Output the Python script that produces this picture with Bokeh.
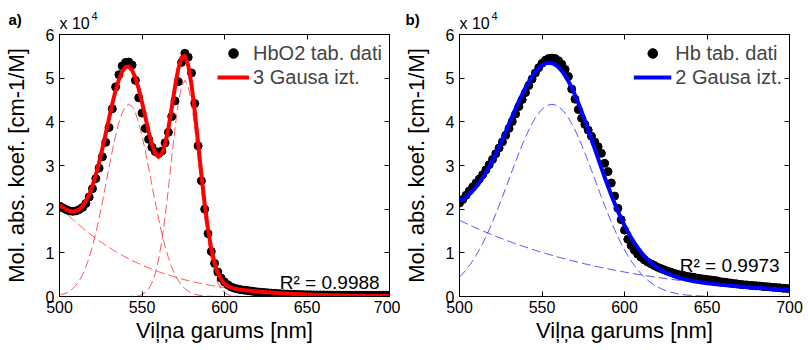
import numpy as np
from bokeh.plotting import figure
from bokeh.models import Range1d, FixedTicker, LinearAxis, Label, Legend, LegendItem
from bokeh.layouts import row
from bokeh.embed import file_html
from bokeh.resources import INLINE

# ---------------- data (molar absorption, units of 1e4 cm-1/M) ----------------
wavelength = list(range(500, 701, 2))

hbo2_data = [
    2.07, 2.03, 1.99, 1.96, 1.95, 1.96, 1.99, 2.04, 2.13, 2.28,
    2.47, 2.70, 2.94, 3.20, 3.53, 3.87, 4.30, 4.80, 5.08, 5.28,
    5.36, 5.37, 5.30, 4.95, 4.55, 4.20, 3.85, 3.60, 3.42, 3.32,
    3.28, 3.33, 3.52, 3.76, 4.12, 4.48, 4.92, 5.36, 5.57, 5.48,
    5.12, 4.42, 3.45, 2.65, 2.00, 1.44, 1.03, 0.76, 0.56, 0.42,
    0.33, 0.27, 0.22, 0.19, 0.17, 0.155, 0.145, 0.135, 0.125, 0.115,
    0.105, 0.098, 0.091, 0.085, 0.079, 0.073, 0.068, 0.063, 0.059, 0.055,
    0.052, 0.049, 0.046, 0.044, 0.042, 0.040, 0.039, 0.037, 0.036, 0.035,
    0.034, 0.033, 0.032, 0.031, 0.031, 0.030, 0.030, 0.029, 0.029, 0.029,
    0.028, 0.028, 0.028, 0.028, 0.028, 0.028, 0.028, 0.029, 0.029, 0.029,
    0.029,
]

hb_data = [
    2.14, 2.22, 2.32, 2.42, 2.51, 2.60, 2.69, 2.79, 2.90, 3.02,
    3.14, 3.27, 3.40, 3.54, 3.69, 3.85, 4.01, 4.18, 4.35, 4.51,
    4.67, 4.83, 4.98, 5.12, 5.24, 5.34, 5.41, 5.45, 5.46, 5.45,
    5.40, 5.32, 5.20, 5.04, 4.75, 4.52, 4.28, 4.08, 3.94, 3.81,
    3.67, 3.54, 3.43, 3.28, 3.05, 2.86, 2.60, 2.30, 2.02, 1.76,
    1.52, 1.31, 1.17, 1.06, 0.97, 0.90, 0.84, 0.79, 0.75, 0.71,
    0.67, 0.64, 0.61, 0.58, 0.56, 0.53, 0.51, 0.49, 0.48, 0.46,
    0.45, 0.44, 0.42, 0.41, 0.40, 0.39, 0.38, 0.37, 0.36, 0.34,
    0.33, 0.32, 0.31, 0.30, 0.29, 0.28, 0.27, 0.265, 0.255, 0.25,
    0.245, 0.24, 0.23, 0.225, 0.22, 0.21, 0.205, 0.20, 0.19, 0.185,
    0.18,
]

# Gaussian fit parameters: a*exp(-((x-b)/c)^2)
hbo2_fit_a = [4.40, 4.95, 17.2]
hbo2_fit_b = [542.0, 576.0, 276.0]
hbo2_fit_c = [19.0, 12.0, 153.8]

hb_fit_a = [4.40, 41.3]
hb_fit_b = [556.0, -103.0]
hb_fit_c = [37.0, 339.0]

hbo2_r2 = "0.9988"
hb_r2 = "0.9973"

x_ticks = [500, 550, 600, 650, 700]
y_ticks = [0, 1, 2, 3, 4, 5, 6]

FONT = "Liberation Sans"


def components(x, a_list, b_list, c_list):
    x = np.asarray(x, dtype=float)
    return [a * np.exp(-((x - b) / c) ** 2) for a, b, c in zip(a_list, b_list, c_list)]


def make_panel(width, left, right, letter, letter_dx, data, data_label, a_l, b_l, c_l,
               fit_label, color, dash_color, r2, r2_y, legend_glyph_w):
    p = figure(width=width, height=346, x_range=Range1d(500, 700), y_range=Range1d(0, 6),
               output_backend="svg", toolbar_location=None,
               min_border_left=left, min_border_right=right, min_border_top=33,
               min_border_bottom=50)
    p.xgrid.visible = False
    p.ygrid.visible = False
    p.outline_line_color = "black"
    p.outline_line_alpha = 1.0
    p.background_fill_color = "white"
    p.border_fill_color = "white"

    for ax in (p.xaxis[0], p.yaxis[0]):
        ax.major_tick_in = 5
        ax.major_tick_out = 0
        ax.minor_tick_in = 0
        ax.minor_tick_out = 0
        ax.major_label_text_font = FONT
        ax.major_label_text_font_size = "16px"
        ax.major_label_text_color = "black"
        ax.axis_line_color = "black"
        ax.major_tick_line_color = "black"
        ax.axis_label_text_font = FONT
        ax.axis_label_text_font_size = "22px"
        ax.axis_label_text_font_style = "normal"
        ax.axis_label_text_color = "black"
    p.xaxis[0].ticker = FixedTicker(ticks=x_ticks)
    p.yaxis[0].ticker = FixedTicker(ticks=y_ticks)
    p.xaxis[0].axis_label = "Viļņa garums [nm]"
    p.xaxis[0].axis_label_standoff = 2
    p.xaxis[0].major_label_standoff = 4
    p.yaxis[0].axis_label = "Mol. abs. koef. [cm-1/M]"
    p.yaxis[0].axis_label_standoff = 14
    p.yaxis[0].major_label_standoff = 5

    for loc, ticks in (("above", x_ticks), ("right", y_ticks)):
        ax = LinearAxis(ticker=FixedTicker(ticks=ticks), major_tick_in=5, major_tick_out=0,
                        minor_tick_in=0, minor_tick_out=0, major_label_text_font_size="0px",
                        major_label_text_color=None, major_label_standoff=0,
                        axis_line_color="black", major_tick_line_color="black")
        p.add_layout(ax, loc)

    comps = components(wavelength, a_l, b_l, c_l)
    for comp in comps:
        p.line(wavelength, comp, line_color=dash_color, line_width=1, line_dash="9 4",
               line_alpha=0.75)
    total = np.sum(comps, axis=0)

    r_pts = p.scatter(wavelength, data, size=8, color="black", marker="circle")
    r_fit = p.line(wavelength, total, line_color=color, line_width=4, line_join="round")

    legend = Legend(items=[LegendItem(label=data_label, renderers=[r_pts]),
                           LegendItem(label=fit_label, renderers=[r_fit])],
                    location="top_right", background_fill_alpha=0, border_line_alpha=0,
                    label_text_font=FONT, label_text_font_size="20px",
                    glyph_width=legend_glyph_w, glyph_height=24, label_height=24,
                    label_standoff=4, spacing=0, padding=7, margin=0)
    p.add_layout(legend)

    # texts outside the frame go in side panels (not clipped there)
    p.add_layout(Label(x=500, y=6, x_offset=letter_dx, y_offset=15, text=letter,
                       text_font=FONT, text_font_size="15px", text_font_style="bold",
                       text_color="black", text_baseline="alphabetic"), "above")
    p.add_layout(Label(x=500, y=6, x_offset=0, y_offset=11, text="x 10",
                       text_font=FONT, text_font_size="16px", text_color="black",
                       text_baseline="alphabetic"), "above")
    p.add_layout(Label(x=500, y=6, x_offset=32, y_offset=19, text="4",
                       text_font=FONT, text_font_size="11px", text_color="black",
                       text_baseline="alphabetic"), "right")
    p.add_layout(Label(x=694, y=r2_y, text="R² = " + r2, text_align="right",
                       text_baseline="alphabetic",
                       text_font=FONT, text_font_size="19px", text_color="black"))
    return p


p1 = make_panel(400, 58, 11, "a)", -51, hbo2_data, "HbO2 tab. dati", hbo2_fit_a,
                hbo2_fit_b, hbo2_fit_c, "3 Gausa izt.", "#ff0000", "#ff2020", hbo2_r2,
                0.32, 32)
p2 = make_panel(408, 59, 19, "b)", -54, hb_data, "Hb tab. dati", hb_fit_a, hb_fit_b,
                hb_fit_c, "2 Gausa izt.", "#0000ff", "#2020ff", hb_r2, 0.72, 38)

layout = row(p1, p2)
open("out.html", "w").write(file_html(layout, INLINE))
